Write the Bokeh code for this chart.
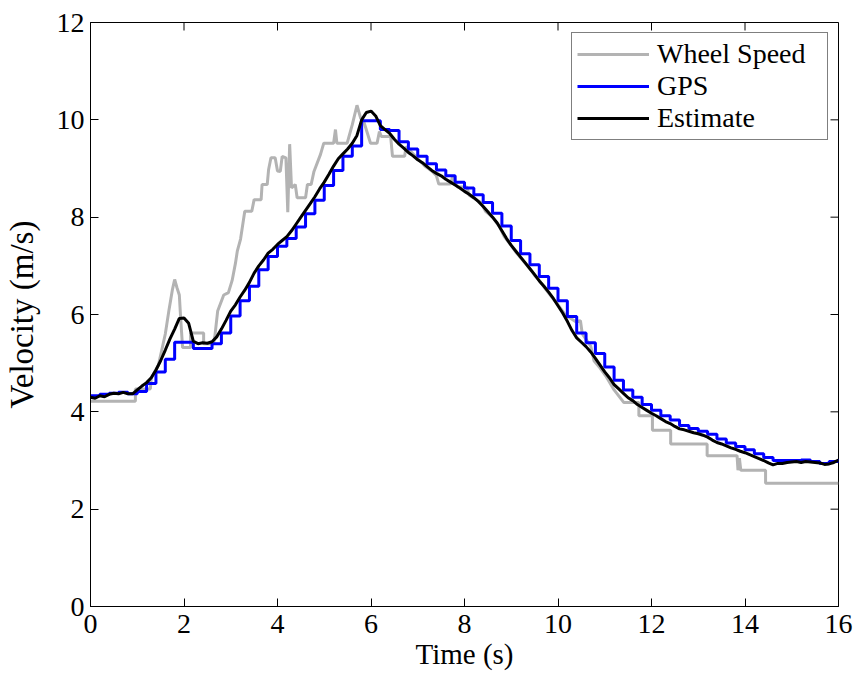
import numpy as np
from bokeh.plotting import figure
from bokeh.models import Range1d, FixedTicker
from bokeh.embed import file_html
from bokeh.resources import INLINE

# ---------------- data ----------------
x_ticks = [0, 2, 4, 6, 8, 10, 12, 14, 16]
y_ticks = [0, 2, 4, 6, 8, 10, 12]
x_lim = (0, 16)
y_lim = (0, 12)

# Wheel speed (quantised, step-like) vertices
wheel_t = [0.00, 0.96, 0.96, 1.28, 1.30, 1.45, 1.52, 1.60, 1.68, 1.75, 1.80, 1.85, 1.90, 1.93, 1.97,
           2.14, 2.14, 2.42, 2.42, 2.63, 2.66, 2.72, 2.85, 2.95, 3.03, 3.10, 3.14, 3.21, 3.30, 3.45,
           3.50, 3.65, 3.67, 3.78, 3.81, 3.86, 3.95, 4.00, 4.06, 4.10, 4.18, 4.22, 4.26, 4.30, 4.38,
           4.42, 4.60, 4.64, 4.72, 4.78, 4.92, 4.99, 5.20, 5.24, 5.27, 5.49, 5.60, 5.70, 5.78, 5.85,
           5.99, 6.13, 6.18, 6.22, 6.42, 6.46, 6.72, 6.75, 6.90, 7.00, 7.15, 7.30, 7.40, 7.45, 7.70,
           7.74, 7.80, 7.85, 8.05, 8.10, 8.35, 8.45, 8.60, 8.75, 8.85, 8.95, 9.10, 9.30, 9.45, 9.50,
           9.60, 9.75, 9.85, 10.00, 10.15, 10.30, 10.38, 10.48, 10.52, 10.70, 10.77, 10.90, 11.02,
           11.20, 11.41, 11.73, 11.73, 12.02, 12.02, 12.41, 12.41, 13.19, 13.19, 13.83, 13.85, 13.88,
           13.91, 14.44, 14.44, 16.00]
wheel_v = [4.22, 4.22, 4.47, 4.47, 4.70, 4.95, 5.25, 5.60, 6.10, 6.50, 6.72, 6.55, 6.40, 5.90, 5.32,
           5.32, 5.62, 5.62, 5.40, 5.40, 5.55, 6.07, 6.40, 6.45, 6.70, 7.05, 7.30, 7.55, 8.12, 8.12,
           8.36, 8.36, 8.67, 8.67, 8.98, 9.22, 9.22, 8.95, 8.94, 9.25, 9.22, 8.10, 9.50, 8.60, 8.67,
           8.40, 8.40, 8.67, 8.67, 8.94, 9.29, 9.52, 9.52, 9.80, 9.52, 9.52, 9.90, 10.30, 10.03, 9.95,
           9.52, 9.52, 9.76, 9.66, 9.66, 9.25, 9.25, 9.45, 9.30, 9.20, 9.05, 8.95, 8.85, 8.68, 8.68,
           8.82, 8.70, 8.62, 8.62, 8.45, 8.30, 8.12, 8.00, 7.80, 7.60, 7.48, 7.28, 7.05, 6.88, 6.80,
           6.70, 6.50, 6.38, 6.20, 6.00, 5.90, 5.85, 5.87, 5.60, 5.35, 5.05, 4.90, 4.74,
           4.45, 4.19, 4.19, 3.92, 3.92, 3.62, 3.62, 3.34, 3.34, 3.10, 3.10, 2.80, 3.05,
           2.80, 2.80, 2.53, 2.53]

# GPS, 5 Hz samples held (zero-order hold)
gps_t = np.round(np.arange(0, 16.001, 0.2), 1)
gps_v = [4.33, 4.36, 4.38, 4.40, 4.37, 4.42, 4.58, 4.82, 5.08, 5.43,
         5.43, 5.30, 5.30, 5.40, 5.62, 5.97, 6.28, 6.58, 6.92, 7.19,
         7.40, 7.56, 7.80, 8.07, 8.35, 8.65, 8.96, 9.25, 9.46, 9.98,
         9.98, 9.80, 9.78, 9.55, 9.40, 9.25, 9.10, 8.97, 8.85, 8.72,
         8.60, 8.46, 8.30, 8.08, 7.82, 7.52, 7.25, 7.02, 6.78, 6.54,
         6.28, 5.96, 5.62, 5.42, 5.20, 4.92, 4.65, 4.45, 4.30, 4.15,
         4.03, 3.92, 3.83, 3.72, 3.66, 3.60, 3.54, 3.44, 3.36, 3.29,
         3.22, 3.14, 3.06, 3.00, 3.00, 3.00, 3.01, 2.98, 2.94, 2.98,
         3.03]

# Estimate, 10 Hz
est_t = np.round(np.arange(0, 16.001, 0.1), 1)
est_v = [4.30, 4.28, 4.33, 4.31, 4.36, 4.38, 4.37, 4.40, 4.37, 4.37,
         4.45, 4.53, 4.60, 4.70, 4.86, 5.05, 5.27, 5.50, 5.70, 5.92,
         5.93, 5.82, 5.45, 5.40, 5.42, 5.41, 5.44, 5.54, 5.70, 5.88,
         6.07, 6.20, 6.36, 6.50, 6.66, 6.85, 7.00, 7.12, 7.26, 7.34,
         7.44, 7.52, 7.60, 7.72, 7.86, 8.00, 8.14, 8.28, 8.42, 8.58,
         8.72, 8.88, 9.05, 9.20, 9.30, 9.40, 9.52, 9.68, 10.00, 10.15,
         10.18, 10.08, 9.88, 9.80, 9.72, 9.60, 9.50, 9.42, 9.33, 9.26,
         9.18, 9.12, 9.04, 8.96, 8.90, 8.85, 8.78, 8.72, 8.66, 8.60,
         8.53, 8.47, 8.40, 8.32, 8.22, 8.11, 8.00, 7.88, 7.72, 7.56,
         7.42, 7.30, 7.18, 7.06, 6.94, 6.82, 6.69, 6.58, 6.46, 6.33,
         6.18, 6.03, 5.86, 5.67, 5.52, 5.43, 5.34, 5.23, 5.10, 4.96,
         4.82, 4.70, 4.56, 4.47, 4.38, 4.29, 4.23, 4.15, 4.09, 4.03,
         3.97, 3.92, 3.86, 3.80, 3.76, 3.70, 3.65, 3.63, 3.60, 3.57,
         3.55, 3.52, 3.48, 3.42, 3.37, 3.34, 3.30, 3.26, 3.23, 3.19,
         3.16, 3.12, 3.08, 3.04, 3.00, 2.95, 2.91, 2.94, 2.94, 2.96,
         2.97, 2.98, 2.96, 2.98, 2.97, 2.96, 2.95, 2.92, 2.93, 2.96,
         3.01]

FONT = "Liberation Serif"
TICK_LEN = 8

p = figure(width=858, height=684, output_backend="svg", toolbar_location=None,
           x_range=Range1d(*x_lim), y_range=Range1d(*y_lim),
           min_border_left=90, min_border_right=20, min_border_top=22, min_border_bottom=78,
           background_fill_color="white", border_fill_color="white")

p.line(wheel_t, wheel_v, line_color="#b3b3b3", line_width=3, legend_label="Wheel Speed")
p.step(gps_t, gps_v, mode="after", line_color="#0000ff", line_width=3, legend_label="GPS")
p.line(est_t, est_v, line_color="#000000", line_width=3, legend_label="Estimate")

# inward tick marks on the top and right edges of the box
p.ray(x=x_ticks, y=[y_lim[1]] * len(x_ticks), length=TICK_LEN, length_units="screen",
      angle=-np.pi / 2, line_color="black", line_width=1)
p.ray(x=[x_lim[1]] * len(y_ticks), y=y_ticks, length=TICK_LEN, length_units="screen",
      angle=np.pi, line_color="black", line_width=1)

p.xgrid.visible = False
p.ygrid.visible = False
p.outline_line_color = "black"
p.outline_line_width = 1
p.outline_line_alpha = 1

for ax, ticks in ((p.xaxis[0], x_ticks), (p.yaxis[0], y_ticks)):
    ax.ticker = FixedTicker(ticks=ticks)
    ax.major_tick_in = TICK_LEN
    ax.major_tick_out = 0
    ax.minor_tick_line_color = None
    ax.axis_line_color = "black"
    ax.major_tick_line_color = "black"
    ax.major_label_text_font = FONT
    ax.major_label_text_font_size = "28px"
    ax.major_label_text_color = "black"
    ax.axis_label_text_font = FONT
    ax.axis_label_text_font_style = "normal"
    ax.axis_label_text_color = "black"

p.xaxis.axis_label = "Time (s)"
p.yaxis.axis_label = "Velocity (m/s)"
p.xaxis.axis_label_text_font_size = "29px"
p.yaxis.axis_label_text_font_size = "33px"
p.xaxis.major_label_standoff = 8
p.yaxis.major_label_standoff = 6
p.xaxis.axis_label_standoff = 2
p.yaxis.axis_label_standoff = 14

lg = p.legend[0]
lg.location = "top_right"
lg.margin = 10
lg.padding = 5
lg.glyph_width = 72
lg.label_standoff = 8
lg.label_width = 165
lg.label_height = 29
lg.spacing = 0
lg.label_text_font = FONT
lg.label_text_font_size = "28px"
lg.label_text_color = "black"
lg.border_line_color = "black"
lg.border_line_width = 1
lg.background_fill_alpha = 1

open("out.html", "w").write(file_html(p, INLINE))
